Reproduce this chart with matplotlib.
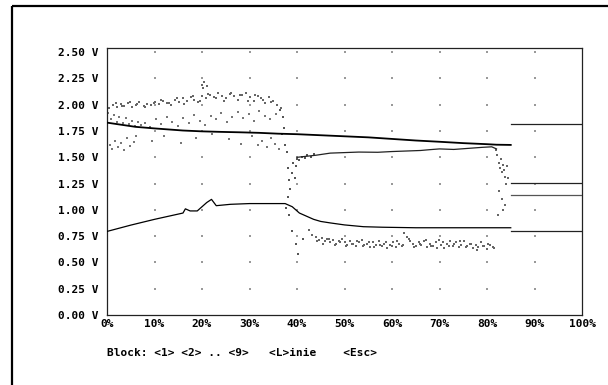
import matplotlib
matplotlib.use("Agg")
import matplotlib.pyplot as plt
from matplotlib.lines import Line2D

# ---------------- data ----------------
x_ticks = [0, 10, 20, 30, 40, 50, 60, 70, 80, 90, 100]
x_tick_labels = ["0%", "10%", "20%", "30%", "40%", "50%", "60%", "70%", "80%", "90%", "100%"]
y_ticks = [0.0, 0.25, 0.5, 0.75, 1.0, 1.25, 1.5, 1.75, 2.0, 2.25, 2.5]
y_tick_labels = ["0.00 V", "0.25 V", "0.50 V", "0.75 V", "1.00 V", "1.25 V",
                 "1.50 V", "1.75 V", "2.00 V", "2.25 V", "2.50 V"]
footer_text = "Block: <1> <2> .. <9>   <L>inie    <Esc>"

# upper declining line
line_a_x = [0, 3, 6, 10, 13, 16, 20, 24, 28, 32, 36, 40, 45, 50, 55, 60, 65, 70, 75, 80, 82, 85]
line_a_y = [1.83, 1.81, 1.79, 1.775, 1.765, 1.755, 1.747, 1.742, 1.738, 1.733, 1.725, 1.72,
            1.71, 1.70, 1.69, 1.675, 1.66, 1.648, 1.635, 1.625, 1.62, 1.618]

# middle rising line
line_b_x = [40, 42, 44, 47, 50, 53, 57, 60, 63, 66, 68, 70, 73, 76, 79, 81, 82]
line_b_y = [1.50, 1.51, 1.52, 1.54, 1.545, 1.55, 1.548, 1.555, 1.56, 1.565, 1.573, 1.58,
            1.575, 1.585, 1.595, 1.60, 1.58]

# lower line
line_c_x = [0, 5, 10, 14, 16, 16.5, 17.5, 19, 20, 21, 22, 23, 26, 30, 34, 37.5, 39, 40.5,
            42, 43.5, 45, 47, 50, 54, 58, 65, 75, 85]
line_c_y = [0.795, 0.855, 0.91, 0.95, 0.97, 1.01, 0.99, 0.99, 1.03, 1.07, 1.10, 1.04, 1.053,
            1.06, 1.06, 1.06, 1.03, 0.97, 0.94, 0.91, 0.89, 0.876, 0.857, 0.84, 0.835, 0.83,
            0.83, 0.83]

# flat levels of the last block (85% .. 100%)
block_x = [85, 100]
block_levels = [1.82, 1.257, 1.145, 0.797]

# scatter clouds
cloud1_x = [0.4, 1.2, 2.1, 2.9, 3.6, 4.4, 5.3, 6.1, 6.8, 7.7, 8.5, 9.3, 10.2, 11.0, 11.8,
            12.6, 13.5, 14.3, 15.1, 15.9, 16.8, 17.6, 18.4, 19.2, 20.1, 20.9, 21.7, 22.6,
            23.4, 24.2, 25.0, 25.9, 26.7, 27.5, 28.4, 29.2, 30.0, 30.9, 31.7, 32.5, 33.3,
            34.2, 35.0, 35.8, 36.6,
            1.8, 3.1, 4.9, 6.4, 8.0, 9.8, 11.4, 13.0, 14.8, 16.3, 18.0, 19.6, 21.3, 22.9,
            24.6, 26.2, 27.9, 29.6, 31.2, 32.9, 34.6,
            20.0, 20.5, 20.3, 21.0]
cloud1_y = [1.97, 2.00, 1.98, 2.01, 1.99, 2.02, 1.98, 2.00, 2.03, 1.99, 2.01, 2.00, 2.03,
            2.01, 2.04, 2.02, 2.00, 2.05, 2.03, 2.06, 2.04, 2.07, 2.05, 2.03, 2.08, 2.06,
            2.09, 2.07, 2.11, 2.08, 2.06, 2.10, 2.08, 2.05, 2.09, 2.11, 2.07, 2.04, 2.08,
            2.06, 2.02, 2.07, 2.04, 2.00, 1.97,
            2.02, 1.99, 2.03, 2.01, 1.98, 2.02, 2.05, 2.02, 2.06, 2.01, 2.08, 2.04, 2.10,
            2.06, 2.04, 2.11, 2.09, 2.04, 2.09, 2.05, 2.03,
            2.19, 2.22, 2.16, 2.18]

cloud2_x = [0.3, 0.8, 1.4, 2.0, 2.6, 3.3, 3.9, 4.6, 5.2, 5.9, 6.5, 7.2,
            0.6, 1.1, 1.7, 2.3, 3.0, 3.6, 4.2, 4.9, 5.6, 6.2,
            8.0, 9.1, 10.3, 11.4, 12.6, 13.7, 14.9, 16.0, 17.2, 18.3, 19.5, 20.6, 21.8,
            22.9, 24.1, 25.2, 26.4, 27.5, 28.7, 29.8, 31.0, 32.1, 33.3, 34.4, 35.6,
            9.5, 12.0, 15.5, 18.8, 22.0, 25.6, 28.2, 30.5, 31.8, 32.7, 33.6, 34.5, 35.3, 36.2]
cloud2_y = [1.92, 1.86, 1.90, 1.84, 1.88, 1.83, 1.87, 1.82, 1.85, 1.80, 1.84, 1.81,
            1.62, 1.58, 1.66, 1.60, 1.64, 1.57, 1.68, 1.61, 1.65, 1.70,
            1.83, 1.79, 1.86, 1.82, 1.88, 1.84, 1.80, 1.87, 1.83, 1.90, 1.85, 1.81, 1.89,
            1.86, 1.92, 1.84, 1.88, 1.93, 1.87, 1.91, 1.85, 1.94, 1.89, 1.86, 1.91,
            1.66, 1.70, 1.64, 1.68, 1.72, 1.67, 1.63, 1.70, 1.62, 1.66, 1.60, 1.68, 1.63, 1.58]

cloud3_x = [36.5, 37.0, 37.3, 37.8, 38.0, 38.3, 38.6, 38.9, 39.2, 39.5, 39.8, 40.1, 40.5,
            41.0, 41.6, 42.2, 42.9, 43.6, 37.6, 38.4, 39.0, 39.7, 40.3, 41.2, 36.8, 37.4, 38.2]
cloud3_y = [1.95, 1.88, 1.78, 1.55, 1.40, 1.28, 1.20, 1.35, 1.45, 1.30, 1.42, 1.48, 1.47,
            1.50, 1.49, 1.52, 1.50, 1.53, 1.02, 0.95, 0.80, 0.68, 0.58, 0.72, 1.72, 1.62, 1.12]

cloud4_x = [44.0, 44.6, 45.2, 45.8, 46.4, 47.0, 47.6, 48.2, 48.8, 49.4, 50.0, 50.6, 51.2,
            51.8, 52.4, 53.0, 53.6, 54.2, 54.8, 55.4, 56.0, 56.6, 57.2, 57.8, 58.4, 59.0,
            59.6, 60.2, 60.8, 61.4, 62.0, 62.6, 63.2, 63.8, 64.4, 65.0, 65.6, 66.2, 66.8,
            67.4, 68.0, 68.6, 69.2, 69.8, 70.4, 71.0, 71.6, 72.2, 72.8, 73.4, 74.0, 74.6,
            75.2, 75.8, 76.4, 77.0, 77.6, 78.2, 78.8, 79.4, 80.0, 80.6, 81.2,
            44.3, 45.5, 46.7, 47.9, 49.1, 50.3, 51.5, 52.7, 53.9, 55.1, 56.3, 57.5, 58.7,
            59.9, 61.1, 62.3, 63.5, 64.7, 65.9, 67.1, 68.3, 69.5, 70.7, 71.9, 73.1, 74.3,
            75.5, 76.7, 77.9, 79.1, 80.3, 81.5, 42.5, 43.2]
cloud4_y = [0.74, 0.71, 0.73, 0.70, 0.72, 0.69, 0.71, 0.68, 0.70, 0.72, 0.69, 0.67, 0.70,
            0.68, 0.66, 0.69, 0.71, 0.67, 0.68, 0.65, 0.69, 0.67, 0.70, 0.66, 0.68, 0.64,
            0.67, 0.69, 0.65, 0.68, 0.66, 0.78, 0.74, 0.70, 0.68, 0.66, 0.69, 0.67, 0.70,
            0.65, 0.68, 0.66, 0.69, 0.71, 0.67, 0.64, 0.68, 0.70, 0.66, 0.69, 0.65, 0.67,
            0.70, 0.66, 0.68, 0.64, 0.67, 0.65, 0.69, 0.66, 0.63, 0.67, 0.65,
            0.70, 0.68, 0.72, 0.67, 0.69, 0.66, 0.68, 0.70, 0.66, 0.69, 0.65, 0.67, 0.69,
            0.66, 0.70, 0.67, 0.72, 0.65, 0.68, 0.71, 0.66, 0.64, 0.69, 0.66, 0.68, 0.70,
            0.65, 0.68, 0.62, 0.66, 0.68, 0.64, 0.81, 0.76]

cloud5_x = [81.8, 82.2, 82.5, 82.8, 83.0, 83.2, 83.4, 83.6, 83.8, 84.0, 84.2, 82.6, 83.1,
            83.7, 84.4, 82.3, 83.3]
cloud5_y = [1.57, 1.52, 1.45, 1.40, 1.48, 1.36, 1.43, 1.38, 1.31, 1.25, 1.42, 1.18, 1.10,
            1.05, 1.30, 0.95, 1.00]

# ---------------- figure ----------------
W, H = 608, 385
fig = plt.figure(figsize=(W / 100, H / 100), dpi=100)
fig.patch.set_facecolor("white")

# outer window frame (left and top edges)
fig.add_artist(Line2D([11.5 / W, 11.5 / W], [0, 1 - 5.5 / H], transform=fig.transFigure,
                      color="black", lw=1.6, solid_capstyle="butt"))
fig.add_artist(Line2D([11.5 / W, 1], [1 - 5.5 / H, 1 - 5.5 / H], transform=fig.transFigure,
                      color="black", lw=1.6, solid_capstyle="butt"))

ax = fig.add_axes([107 / W, 1 - 315 / H, (582 - 107) / W, (315 - 48) / H])
ax.set_xlim(0, 100)
ax.set_ylim(0, 2.54)
for s in ax.spines.values():
    s.set_color("#222222")
    s.set_linewidth(0.9)

font = dict(family="DejaVu Sans Mono", weight="bold", size=8)
ax.set_xticks(x_ticks)
ax.set_xticklabels(x_tick_labels, **font)
ax.set_yticks(y_ticks)
ax.set_yticklabels(y_tick_labels, **font)
ax.tick_params(length=0, pad=6)
ax.tick_params(axis="x", pad=3)

# grid dots
gx = [x for x in x_ticks if 0 < x < 100]
gy = [y for y in y_ticks if y > 0]
ax.scatter([x for x in gx for _ in gy], [y for _ in gx for y in gy],
           s=1.0, color="#999999", marker="s", linewidths=0, zorder=1)

dot = dict(s=1.1, marker="s", linewidths=0, zorder=2)
ax.scatter(cloud1_x, cloud1_y, color="#666666", **dot)
ax.scatter(cloud2_x, cloud2_y, color="#777777", **dot)
ax.scatter(cloud3_x, cloud3_y, color="#555555", **dot)
ax.scatter(cloud4_x, cloud4_y, color="#666666", **dot)
ax.scatter(cloud5_x, cloud5_y, color="#666666", **dot)

ax.plot(line_a_x, line_a_y, color="black", lw=1.3, zorder=3)
ax.plot(line_b_x, line_b_y, color="#222222", lw=0.9, zorder=3)
ax.plot(line_c_x, line_c_y, color="black", lw=0.9, zorder=3)
for i, lv in enumerate(block_levels):
    ax.plot(block_x, [lv, lv], color="#222222" if i != 2 else "#555555", lw=0.9, zorder=3)

fig.text(107 / W, 1 - 353 / H, footer_text, ha="left", va="center", **font)

fig.savefig("out.png", dpi=100, facecolor="white")
